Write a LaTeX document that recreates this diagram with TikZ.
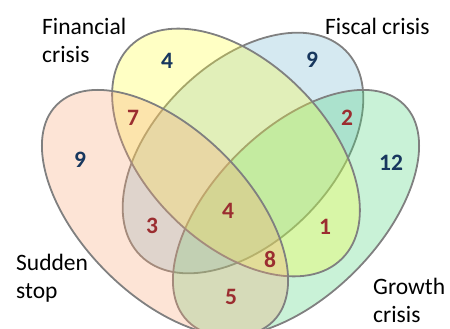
\documentclass[tikz,border=0pt]{standalone}
\usepackage{fontspec}
\setmainfont{Carlito}
\definecolor{linegray}{RGB}{128,128,128}
\definecolor{fiscalblue}{RGB}{115,182,208}
\definecolor{growthgreen}{RGB}{75,212,122}
\definecolor{finyellow}{RGB}{255,255,58}
\definecolor{suddenpink}{RGB}{248,165,118}
\definecolor{numnavy}{RGB}{23,55,94}
\definecolor{numred}{RGB}{155,45,48}
\begin{document}
\begin{tikzpicture}[x=1pt,y=-1pt,
  venn/.style={draw=linegray, line width=1.8pt, fill opacity=0.3},
  lbl/.style={font=\fontsize{23.5}{28}\selectfont, align=left, anchor=base west, inner sep=0pt},
  numbase/.style={font=\fontsize{23.5}{28}\selectfont\bfseries, inner sep=0pt},
  onlynum/.style={numbase, text=numnavy},
  sharednum/.style={numbase, text=numred}]
\useasboundingbox (0,0) rectangle (450,329);
% ellipses, bottom to top
\path[venn, fill=fiscalblue, rotate around={45:(243,153)}] (243,153) ellipse [x radius=145, y radius=89];
\path[venn, fill=growthgreen, rotate around={45:(296,213)}] (296,213) ellipse [x radius=153, y radius=83];
\path[venn, fill=finyellow, rotate around={-45:(236,152.5)}] (236,152.5) ellipse [x radius=150, y radius=90.5];
\path[venn, fill=suddenpink, rotate around={-45:(165,213)}] (165,213) ellipse [x radius=153, y radius=83];
% set labels (anchor at baseline of last line)
\node[lbl] (lfin) at (42,63) {Financial\\crisis};
\node[lbl] (lfis) at (325,35) {Fiscal crisis};
\node[lbl] (lsud) at (16,298) {Sudden\\stop};
\node[lbl] (lgro) at (373,322) {Growth\\crisis};
% counts
\node[onlynum] (nfin) at (167,61) {4};
\node[onlynum] (nsud) at (80,160) {9};
\node[onlynum] (nfis) at (312,60) {9};
\node[onlynum] (ngro) at (391,163) {12};
\node[sharednum] (nsf) at (133,118) {7};
\node[sharednum] (nfg) at (347,118) {2};
\node[sharednum] (nsb) at (152,226) {3};
\node[sharednum] (nall) at (228,211) {4};
\node[sharednum] (nyg) at (325,227) {1};
\node[sharednum] (nsyg) at (270,259) {8};
\node[sharednum] (nsg) at (231,297) {5};
\end{tikzpicture}
\end{document}
